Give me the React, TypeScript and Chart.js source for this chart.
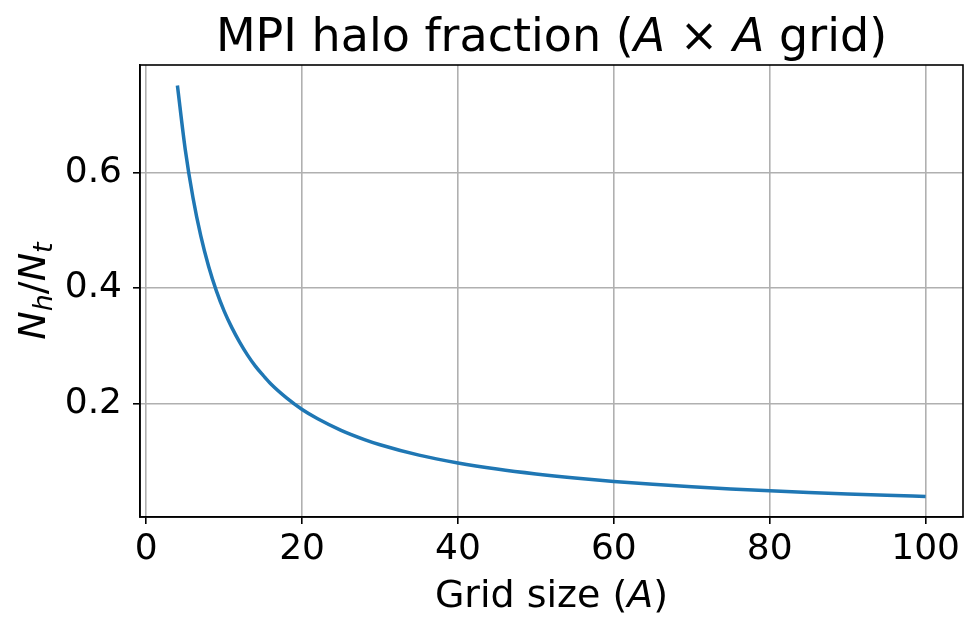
import React, { useEffect, useRef } from "react";
import { Chart, registerables } from "chart.js";

Chart.register(...registerables);

const gridSizes = [4, 5, 6, 7, 8, 9, 10, 11, 12, 13, 14, 15, 16, 18, 20, 22, 25, 28, 30, 35, 40, 45, 50, 55, 60, 65, 70, 75, 80, 85, 90, 95, 100];
const haloFractions = [0.75, 0.64, 0.556, 0.49, 0.4375, 0.395, 0.36, 0.331, 0.306, 0.284, 0.265, 0.249, 0.234, 0.21, 0.19, 0.174, 0.154, 0.138, 0.129, 0.111, 0.0975, 0.0869, 0.0784, 0.0714, 0.0656, 0.0606, 0.0563, 0.0526, 0.0494, 0.0465, 0.044, 0.0417, 0.0396];
const xTicks = [0, 20, 40, 60, 80, 100];
const yTicks = [0.2, 0.4, 0.6];

const FONT = "'DejaVu Sans', sans-serif";

type Seg = { text: string; italic?: boolean; size: number; dy?: number };

function drawSegs(ctx: CanvasRenderingContext2D, segs: Seg[], cx: number, baseline: number) {
  let total = 0;
  const widths = segs.map((s) => {
    ctx.font = `${s.italic ? "italic " : ""}${s.size}px ${FONT}`;
    const w = ctx.measureText(s.text).width;
    total += w;
    return w;
  });
  let x = cx - total / 2;
  ctx.textAlign = "left";
  ctx.textBaseline = "alphabetic";
  ctx.fillStyle = "#000";
  segs.forEach((s, i) => {
    ctx.font = `${s.italic ? "italic " : ""}${s.size}px ${FONT}`;
    ctx.fillText(s.text, x, baseline + (s.dy || 0));
    x += widths[i];
  });
}

const decorPlugin = {
  id: "decor",
  afterDraw(chart: any) {
    const ctx = chart.ctx as CanvasRenderingContext2D;
    const a = chart.chartArea;
    ctx.save();
    ctx.strokeStyle = "#000";
    ctx.lineWidth = 1.6;
    ctx.strokeRect(a.left, a.top, a.right - a.left, a.bottom - a.top);
    const cx = (a.left + a.right) / 2;
    drawSegs(ctx, [
      { text: "MPI halo fraction (", size: 46 },
      { text: "A", italic: true, size: 46 },
      { text: " × ", size: 46 },
      { text: "A", italic: true, size: 46 },
      { text: " grid)", size: 46 },
    ], cx, 51);
    drawSegs(ctx, [
      { text: "Grid size (", size: 38 },
      { text: "A", italic: true, size: 38 },
      { text: ")", size: 38 },
    ], cx, 607);
    ctx.translate(45, (a.top + a.bottom) / 2);
    ctx.rotate(-Math.PI / 2);
    drawSegs(ctx, [
      { text: "N", italic: true, size: 38 },
      { text: "h", italic: true, size: 27, dy: 7 },
      { text: "/", size: 38 },
      { text: "N", italic: true, size: 38 },
      { text: "t", italic: true, size: 27, dy: 7 },
    ], 0, 0);
    ctx.restore();
  },
};

export default function App() {
  const ref = useRef<HTMLCanvasElement>(null);
  useEffect(() => {
    document.body.style.margin = "0";
    const chart = new Chart(ref.current!, {
      type: "line",
      data: {
        datasets: [
          {
            data: gridSizes.map((g, i) => ({ x: g, y: haloFractions[i] })),
            borderColor: "#1f77b4",
            borderWidth: 3.5,
            pointRadius: 0,
            cubicInterpolationMode: "monotone",
            fill: false,
          },
        ],
      },
      options: {
        responsive: false,
        animation: false,
        devicePixelRatio: 1,
        layout: { padding: { top: 65, right: 3, left: 0, bottom: 0 } },
        plugins: { legend: { display: false }, tooltip: { enabled: false }, title: { display: false } },
        scales: {
          x: {
            type: "linear",
            min: -0.8,
            max: 104.8,
            afterBuildTicks: (s: any) => { s.ticks = xTicks.map((v) => ({ value: v })); },
            afterFit: (s: any) => { s.height = 101; },
            grid: { color: "#b0b0b0", lineWidth: 1.6, tickColor: "#000", tickLength: 7, tickWidth: 1.6 },
            border: { color: "#000", width: 1.6 },
            ticks: { font: { family: FONT, size: 36 }, color: "#000", padding: 4, maxRotation: 0, autoSkip: false, callback: (v: any) => String(v) },
          },
          y: {
            type: "linear",
            min: 0.0041,
            max: 0.7855,
            afterBuildTicks: (s: any) => { s.ticks = yTicks.map((v) => ({ value: v })); },
            afterFit: (s: any) => { s.width = 140; },
            grid: { color: "#b0b0b0", lineWidth: 1.6, tickColor: "#000", tickLength: 7, tickWidth: 1.6 },
            border: { color: "#000", width: 1.6 },
            ticks: { font: { family: FONT, size: 36 }, color: "#000", padding: 11, autoSkip: false, callback: (v: any) => Number(v).toFixed(1) },
          },
        },
      },
      plugins: [decorPlugin],
    } as any);
    return () => chart.destroy();
  }, []);
  return (
    <div style={{ width: 966, height: 618 }}>
      <canvas ref={ref} width={966} height={618} style={{ width: 966, height: 618, display: "block" }} />
    </div>
  );
}
